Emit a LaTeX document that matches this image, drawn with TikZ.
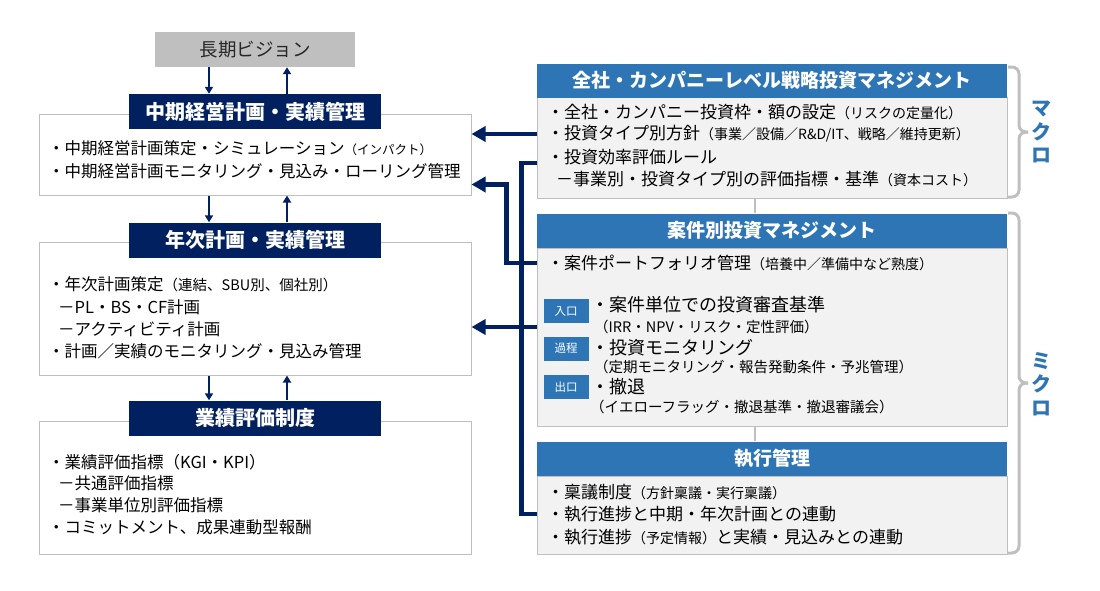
\documentclass[tikz,border=0pt]{standalone}
\usepackage{fontspec}
\setmainfont{Noto Sans CJK JP}
\usepackage{tikz}
\usetikzlibrary{arrows.meta,positioning,calc}

\definecolor{navy}{HTML}{002060}
\definecolor{midblue}{HTML}{2E75B6}
\definecolor{linegray}{HTML}{BFBFBF}
\definecolor{panelgray}{HTML}{F2F2F2}
\definecolor{inkgray}{HTML}{262626}

\newcommand{\jfont}[1]{\fontsize{#1}{#1}\selectfont}
\newcommand{\subnote}[2][14.5]{{\jfont{#1}#2}}

\begin{document}
\begin{tikzpicture}[x=1pt,y=-1pt,
    every node/.style={inner sep=0pt},
    frame/.style={draw=linegray, line width=1pt, minimum width=432pt},
    navyhead/.style={fill=navy, text=white, font=\jfont{20}\bfseries, minimum width=252pt, minimum height=35pt},
    bluehead/.style={fill=midblue, text=white, font=\jfont{19}\bfseries, minimum width=470pt, minimum height=34pt},
    panel/.style={draw=linegray, fill=panelgray, line width=1pt, minimum width=470pt},
    ltext/.style={anchor=west, font=\jfont{16.5}},
    rtext/.style={anchor=west, font=\jfont{17}},
    tag/.style={fill=midblue, text=white, font=\jfont{11.5}, minimum width=45pt, minimum height=24pt},
    flow/.style={navy, line width=2pt, -{Triangle[length=7pt,width=8pt]}},
    link/.style={navy, line width=4.5pt},
    linkarrow/.style={link, -{Triangle[length=14pt,width=15pt]}},
    joint/.style={linegray, line width=2pt},
    brace/.style={linegray, line width=3pt, rounded corners=7pt},
    side/.style={text=midblue, font=\fontsize{20}{23.5}\selectfont\bfseries, align=center}]

  \useasboundingbox (0,0) rectangle (1100,590);

  % Long-term vision
  \node[fill=linegray, text=inkgray, font=\jfont{18.5}, minimum width=200pt, minimum height=35pt] (vision) at (255,49.5) {長期ビジョン};

  % Mid-term plan
  \node[frame, minimum height=81pt] (box1) at (255,154.5) {};
  \node[navyhead] (hdr1) at (255,111.5) {中期経営計画・実績管理};
  \node[ltext] (m1) at (48,148) {・中期経営計画策定・シミュレーション\subnote[12.5]{（インパクト）}};
  \node[ltext] (m2) at (48,171) {・中期経営計画モニタリング・見込み・ローリング管理};

  % Annual plan
  \node[frame, minimum height=133pt] (box2) at (255,308.5) {};
  \node[navyhead] (hdr2) at (255,240) {年次計画・実績管理};
  \node[ltext] (y1) at (48,284) {・年次計画策定\subnote{（連結、SBU別、個社別）}};
  \node[ltext] (y2) at (58,307) {－PL・BS・CF計画};
  \node[ltext] (y3) at (58,329) {－アクティビティ計画};
  \node[ltext] (y4) at (48,351) {・計画／実績のモニタリング・見込み管理};

  % Performance evaluation
  \node[frame, minimum height=133pt] (box3) at (255,487.5) {};
  \node[navyhead] (hdr3) at (255,418) {業績評価制度};
  \node[ltext] (e1) at (48,462) {・業績評価指標（KGI・KPI）};
  \node[ltext] (e2) at (58,483) {－共通評価指標};
  \node[ltext] (e3) at (58,505) {－事業単位別評価指標};
  \node[ltext] (e4) at (48,527) {・コミットメント、成果連動型報酬};

  % Up and down flows
  \draw[flow] ([xshift=-46pt]vision.south) -- ([xshift=-46pt]hdr1.north);
  \draw[flow] ([xshift=32pt]hdr1.north) -- ([xshift=32pt]vision.south);
  \draw[flow] ([xshift=-46pt]box1.south) -- ([xshift=-46pt]hdr2.north);
  \draw[flow] ([xshift=32pt]hdr2.north) -- ([xshift=32pt]box1.south);
  \draw[flow] ([xshift=-46pt]box2.south) -- ([xshift=-46pt]hdr3.north);
  \draw[flow] ([xshift=32pt]hdr3.north) -- ([xshift=32pt]box2.south);

  % Company level investment
  \node[panel, minimum height=101pt] (bodyA) at (772,147.5) {};
  \node[bluehead] (hdrA) at (772,80.5) {全社・カンパニーレベル戦略投資マネジメント};
  \node[rtext] (a1) at (547,112) {・全社・カンパニー投資枠・額の設定\subnote[14]{（リスクの定量化）}};
  \node[rtext] (a2) at (547,134) {・投資タイプ別方針\subnote[14]{（事業／設備／R\&D/IT、戦略／維持更新）}};
  \node[rtext] (a3) at (547,157) {・投資効率評価ルール};
  \node[rtext] (a4) at (556,179) {－事業別・投資タイプ別の評価指標・基準\subnote[14]{（資本コスト）}};

  % Case level investment
  \node[panel, minimum height=178pt] (bodyB) at (772,337) {};
  \node[bluehead] (hdrB) at (772,230.5) {案件別投資マネジメント};
  \node[rtext] (b1) at (547,263) {・案件ポートフォリオ管理\subnote[14]{（培養中／準備中など熟度）}};
  \node[tag] (tagIn) at (566,311) {入口};
  \node[tag] (tagMid) at (566,348.5) {過程};
  \node[tag] (tagOut) at (566,387) {出口};
  \node[rtext, font=\jfont{18}] (b2) at (591,305) {・案件単位での投資審査基準};
  \node[rtext, font=\jfont{14.5}] (b2sub) at (594,327) {（IRR・NPV・リスク・定性評価）};
  \node[rtext, font=\jfont{18}] (b3) at (591,348) {・投資モニタリング};
  \node[rtext, font=\jfont{14.5}] (b3sub) at (594,367) {（定期モニタリング・報告発動条件・予兆管理）};
  \node[rtext, font=\jfont{18}] (b4) at (591,387) {・撤退};
  \node[rtext, font=\jfont{14.5}] (b4sub) at (590,407) {（イエローフラッグ・撤退基準・撤退審議会）};

  % Execution
  \node[panel, minimum height=78pt] (bodyC) at (772,515) {};
  \node[bluehead] (hdrC) at (772,458.5) {執行管理};
  \node[rtext] (c1) at (547,492) {・稟議制度\subnote[14]{（方針稟議・実行稟議）}};
  \node[rtext] (c2) at (547,514) {・執行進捗と中期・年次計画との連動};
  \node[rtext] (c3) at (547,537) {・執行進捗\subnote[14]{（予定情報）}と実績・見込みとの連動};

  % Gray joints
  \draw[joint] ([xshift=-17pt]bodyA.south) -- ([xshift=-17pt]hdrB.north);
  \draw[joint] ([xshift=-17pt]bodyB.south) -- ([xshift=-17pt]hdrC.north);

  % Links to the left column
  \draw[linkarrow] (bodyA.west |- a2) -- (box1.east |- a2);
  \draw[link] ($(bodyA.west |- a3)+(0,6)$) -- ++(-15,0) |- (bodyC.west |- c2);
  \draw[linkarrow] (bodyB.west |- b1) -- ++(-30,0) |- ([yshift=11pt]box1.south east);
  \draw[linkarrow] (bodyB.west |- b2sub) -- (box2.east |- b2sub);

  % Braces
  \draw[brace] (1008,67) -- (1019,67) -- (1019,132) -- (1028,132);
  \draw[brace] (1028,132) -- (1019,132) -- (1019,197) -- (1008,197);
  \draw[brace] (1008,213) -- (1019,213) -- (1019,383) -- (1028,383);
  \draw[brace] (1028,383) -- (1019,383) -- (1019,553) -- (1008,553);
  \node[side] (macro) at (1041,132) {マ\\ク\\ロ};
  \node[side] (micro) at (1041,384) {ミ\\ク\\ロ};
\end{tikzpicture}
\end{document}
